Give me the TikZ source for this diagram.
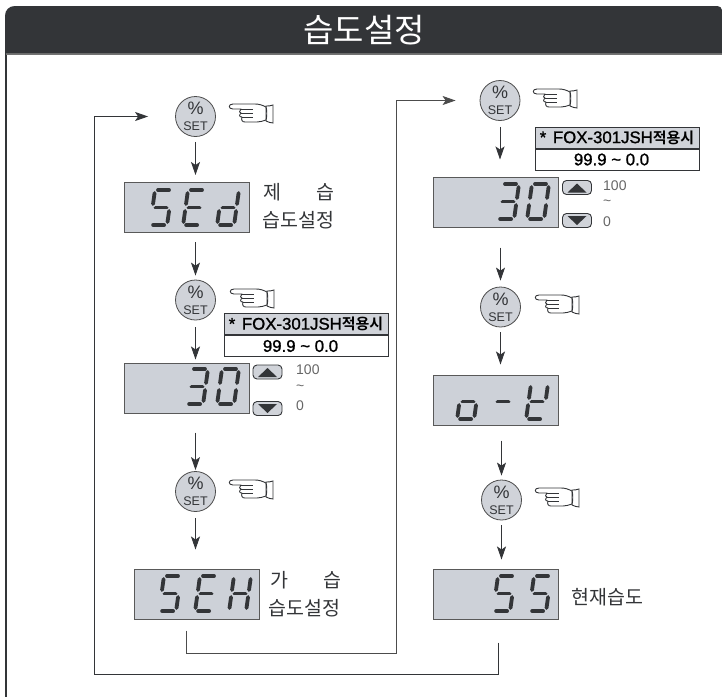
\documentclass[tikz,border=0pt]{standalone}
\usepackage{fontspec}
\setmainfont{Liberation Sans}
\newfontfamily\kr[BoldFont={Noto Sans CJK KR Bold}]{Noto Sans CJK KR}
\newfontfamily\tabfont[FakeBold=1.2]{Liberation Sans}
\usetikzlibrary{arrows.meta,calc}
\definecolor{lcd}{HTML}{CDD1D8}
\definecolor{ink}{HTML}{333538}
\definecolor{keygray}{HTML}{D0D3D9}
\newcommand{\sega}{\draw (3,0)--(14,0);}
\newcommand{\segb}{\draw (17,3)--(17,14);}
\newcommand{\segc}{\draw (17,21)--(17,32);}
\newcommand{\segd}{\draw (3,35)--(14,35);}
\newcommand{\sege}{\draw (0,21)--(0,32);}
\newcommand{\segf}{\draw (0,3)--(0,14);}
\newcommand{\segg}{\draw (3,17.5)--(14,17.5);}
\newcommand{\lcdchar}[3]{%
  \begin{scope}[shift={(#1+5,#2)},xslant=0.14,line width=3.8pt,line cap=round,draw=ink]
    \foreach \s in {#3}{\csname seg\s\endcsname}
  \end{scope}}
\newcommand{\keytext}{{\fontsize{18}{18}\selectfont\%}\\SET}
\newcommand{\tabtop}{{\tabfont * \hspace{2pt}FOX-301JSH}{\kr\bfseries\fontsize{15}{15}\selectfont 적용시}}
\newcommand{\tabbot}{\hspace{-11pt}{\tabfont 99.9 \char"7E\ 0.0}}
\tikzset{
  lcdbox/.style={draw=black!65,line width=1pt,fill=lcd,minimum width=125pt,minimum height=50pt,inner sep=0pt},
  setkey/.style={circle,draw=black!70,line width=.8pt,fill=keygray,minimum size=40pt,inner sep=0pt,align=center,font=\fontsize{12.5}{16}\selectfont,text=ink},
  flow/.style={draw=ink,line width=.9pt,-{Stealth[length=13pt,width=9pt,inset=3pt]}},
  wire/.style={draw=black!70,line width=.9pt},
  caption/.style={font=\kr\fontsize{19.5}{21}\selectfont,text=ink,inner sep=0pt,anchor=west},
  small/.style={font=\fontsize{14}{14}\selectfont,text=black!60,inner sep=0pt,anchor=west},
  tabhead/.style={draw=ink,line width=1pt,fill=keygray,minimum width=164pt,minimum height=21pt,inner sep=0pt,font=\fontsize{16.8}{17}\selectfont,text=black},
  tabrow/.style={draw=ink,line width=1pt,fill=white,minimum width=164pt,minimum height=21pt,inner sep=0pt,font=\fontsize{16.8}{17}\selectfont,text=black},
  updown/.style={draw=ink,rounded corners=4pt,line width=.9pt,fill=keygray,minimum width=29pt,minimum height=14pt,inner sep=0pt},
  hand/.pic={
    \draw[ink,line width=.9pt,fill=white,line join=round]
      (37,4) .. controls (33,2) and (30,1) .. (26,1)--(4,1) .. controls (-1,1) and (-1,6) .. (4,6)--(12,6)
      .. controls (10,8) and (10,10) .. (12,10) .. controls (10,12) and (10,14) .. (13,14)
      .. controls (12,17) and (13,19) .. (16,19)--(28,19) .. controls (31,19) and (34,18) .. (37,17)--cycle;
    \draw[ink,line width=.9pt,fill=white] (37,3) .. controls (39,3) and (42,3) .. (44,2)--(44,20) .. controls (42,20) and (39,19) .. (37,18) .. controls (38,13) and (38,8) .. (37,3)--cycle;
    \draw[ink,line width=.8pt] (12,6)--(24,6) (12,10)--(24,10) (13,14)--(24,14);
  },
}
\begin{document}
\begin{tikzpicture}[x=1pt,y=-1pt]
\useasboundingbox (0,0) rectangle (722,697);
% frame and title
\draw[ink,line width=1.2pt] (6,50)--(6,697);
\draw[black!55,line width=1.2pt] (6,54)--(722,54);
\fill[ink] (5,53) -- (5,16) .. controls (5,10) and (9,6) .. (15,6) -- (716,6) .. controls (720,6) and (722,8) .. (722,10) -- (722,53) -- cycle;
\node[text=white,font=\kr\fontsize{33}{33}\selectfont,inner sep=0pt] (title) at (364,30) {습도설정};
% left column
\node[setkey] (k1) at (195.5,116.5) {\keytext};
\pic at (229,103) {hand};
\node[lcdbox] (d1) at (186.5,207.5) {};
\lcdchar{150}{190}{a,f,g,c,d}
\lcdchar{183}{190}{a,f,g,e,d}
\lcdchar{217}{190}{b,c,d,e,g}
\node[caption] (c1a) at (263,192) {제\hspace{1.8em}습};
\node[caption] (c1b) at (262,220) {습도설정};
\node[setkey] (k2) at (195.5,300) {\keytext};
\pic at (230,288) {hand};
\node[tabhead] (t1) at (306,324) {\tabtop};
\node[tabrow,anchor=north] (r1) at (t1.south) {\tabbot};
\node[lcdbox] (d2) at (186.5,388) {};
\lcdchar{186}{369}{a,b,g,c,d}
\lcdchar{217}{369}{a,b,c,d,e,f}
\node[setkey] (k3) at (195.5,491.5) {\keytext};
\pic at (229,479) {hand};
\node[lcdbox] (d3) at (196.5,594) {};
\lcdchar{159}{576}{a,f,g,c,d}
\lcdchar{195}{576}{a,f,g,e,d}
\lcdchar{229}{576}{b,c,e,f,g}
\node[caption] (c3a) at (270,580) {가\hspace{1.8em}습};
\node[caption] (c3b) at (268,608) {습도설정};
% up/down
\node[updown] (u1) at (267.5,372) {};
\fill[ink] (258,377)--(267.5,368)--(277,377)--cycle;
\node[updown] (v1) at (267.5,408.5) {};
\fill[ink] (258,404)--(267.5,413)--(277,404)--cycle;
\node[small] (l1) at (296,370) {100};
\node[small] (l2) at (296,388) {\char"7E};
\node[small] (l3) at (296,406) {0};
% right column
\node[setkey] (k4) at (500,100.5) {\keytext};
\pic at (533,88) {hand};
\node[tabhead] (t2) at (617,137.5) {\tabtop};
\node[tabrow,anchor=north] (r2) at (t2.south) {\tabbot};
\node[lcdbox] (d4) at (495.5,202) {};
\lcdchar{497}{184}{a,b,g,c,d}
\lcdchar{527}{184}{a,b,c,d,e,f}
\node[updown] (u2) at (577,187.5) {};
\fill[ink] (567.5,192.5)--(577,183.5)--(586.5,192.5)--cycle;
\node[updown] (v2) at (577,220.5) {};
\fill[ink] (567.5,216)--(577,225)--(586.5,216)--cycle;
\node[small] (l4) at (603,186) {100};
\node[small] (l5) at (603,203) {\char"7E};
\node[small] (l6) at (603,222) {0};
\node[setkey] (k5) at (500.5,307) {\keytext};
\pic at (535,294) {hand};
\node[lcdbox] (d5) at (496,400) {};
\lcdchar{457}{384}{c,d,e,g}
\lcdchar{492}{384}{g}
\lcdchar{526}{384}{b,f,g,e,d}
\node[setkey] (k6) at (501.5,500) {\keytext};
\pic at (535,487) {hand};
\node[lcdbox] (d6) at (496,594) {};
\lcdchar{493}{576}{a,f,g,c,d}
\lcdchar{529}{576}{a,f,g,c,d}
\node[caption] (c6) at (571,597) {현재습도};
% connectors
\draw[flow,shorten <=5pt,shorten >=7pt] (k1.south) -- (k1.south |- d1.north);
\draw[flow,shorten <=9pt,shorten >=4pt] (d1.south -| k2) -- (k2.north);
\draw[flow,shorten <=7pt,shorten >=3pt] (k2.south) -- (k2.south |- d2.north);
\draw[flow,shorten <=19pt,shorten >=1pt] (d2.south -| k3) -- (k3.north);
\draw[flow,shorten <=6pt,shorten >=19pt] (k3.south) -- (k3.south |- d3.north);
\draw[flow,shorten <=6pt,shorten >=17pt] (k4.south) -- (k4.south |- d4.north);
\draw[flow,shorten <=20pt,shorten >=6pt] (d4.south -| k5) -- (k5.north);
\draw[flow,shorten <=5pt,shorten >=10pt] (k5.south) -- (k5.south |- d5.north);
\draw[flow,shorten <=15pt,shorten >=4pt] (d5.south -| k6) -- (k6.north);
\draw[flow,shorten <=5pt,shorten >=9pt] (k6.south) -- (k6.south |- d6.north);
\coordinate (j1) at (186,653);
\coordinate (j2) at (396,653);
\draw[wire,-{Stealth[length=13pt,width=9pt,inset=3pt]},shorten <=11pt,shorten >=24pt] (d3.south -| j1) -- (j1) -- (j2) |- (k4.west);
\coordinate (j3) at (498,674);
\coordinate (j4) at (94,674);
\draw[flow,shorten <=23pt,shorten >=27pt] (d6.south -| j3) -- (j3) -- (j4) |- (k1.west);
\end{tikzpicture}
\end{document}
